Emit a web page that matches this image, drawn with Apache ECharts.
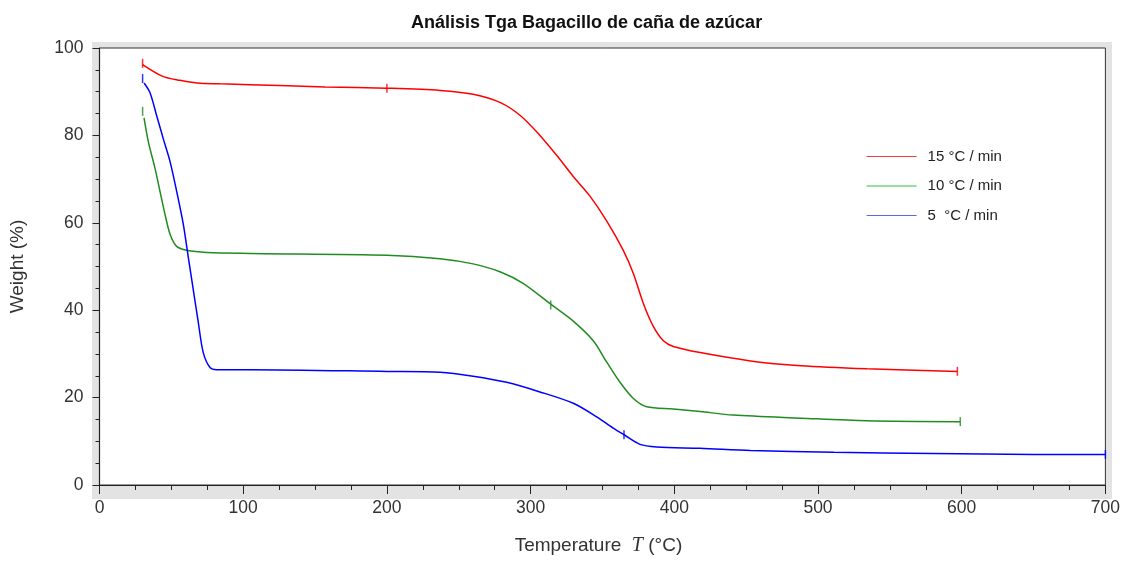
<!DOCTYPE html>
<html lang="es">
<head>
    <meta charset="UTF-8">
    <title>Análisis Tga</title>
    <script src="https://cdn.jsdelivr.net/npm/echarts@6/dist/echarts.min.js"></script>
</head>
<body style="margin:0; background:#fff;">
    <div id="chart" style="width:1123px; height:561px;"></div>
    <script>
        // datos (T en °C, peso en %)
        const redT = [30, 44, 56, 68, 84, 105, 157, 200, 237, 260, 279, 293, 306.5, 318, 329.7, 341.3, 353, 364.5, 371.5, 378.4, 385.4, 392.4, 399.3, 418, 453, 488, 534, 597];
        const redW = [96.2, 93.5, 92.6, 92.0, 91.8, 91.6, 91.1, 90.8, 90.3, 89.4, 87.5, 84.5, 80.0, 75.5, 70.6, 66.1, 60.4, 53.7, 48.4, 41.6, 36.3, 33.0, 31.7, 30.3, 28.4, 27.3, 26.6, 26.0];

        const greenT = [31, 34, 38.6, 42.1, 45.6, 49.1, 53.7, 60.7, 74.6, 105, 200, 237, 260, 278.7, 295, 314.7, 329.7, 343.6, 353, 362.2, 371.5, 380.8, 399.3, 418, 441, 488, 534, 599];
        const greenW = [84.0, 78.5, 72.5, 67.2, 61.9, 57.4, 54.6, 53.7, 53.2, 53.0, 52.6, 51.8, 50.6, 48.8, 46.1, 41.2, 37.5, 33.0, 28.1, 23.5, 19.8, 17.9, 17.4, 16.8, 16.0, 15.3, 14.7, 14.5];

        const blueT = [31, 35.1, 39.8, 44.4, 49.1, 53.7, 58.3, 61.8, 65.3, 68.8, 72.2, 76.9, 81.6, 105, 200, 237, 260, 283.4, 306.5, 329.7, 346, 357.5, 365, 376.1, 387.8, 418, 453, 511, 580, 650, 700];
        const blueW = [92.0, 89.8, 84.5, 79.2, 74.0, 67.2, 59.7, 52.1, 44.6, 37.1, 30.3, 26.9, 26.4, 26.4, 26.0, 25.8, 24.9, 23.5, 21.3, 18.7, 15.6, 13.0, 11.5, 9.3, 8.7, 8.4, 7.9, 7.5, 7.2, 7.0, 7.0];

        // marcas verticales sobre cada curva
        const redMarkT = [30, 200, 597];
        const redMarkW = [96.5, 90.8, 26.0];
        const greenMarkT = [30, 314, 599];
        const greenMarkW = [85.5, 41.2, 14.5];
        const blueMarkT = [30, 365, 700];
        const blueMarkW = [93.0, 11.5, 7.0];

        const seriesNames = ['15 °C / min', '10 °C / min', '5  °C / min'];
        const colors = ['#ff0000', '#228b22', '#0000ff'];
        const legendColors = ['#f03c3c', '#2fbf3f', '#5a6ae0'];

        const zip = (xs, ys) => xs.map((x, i) => [x, ys[i]]);
        const font = 'Liberation Sans, Arial, sans-serif';

        function lineSeries(name, color, xs, ys) {
            return {
                name: name,
                type: 'line',
                data: zip(xs, ys),
                symbol: 'none',
                smooth: 0.3,
                lineStyle: { color: color, width: 1.5 },
                itemStyle: { color: color },
                z: 3
            };
        }
        function markSeries(color, xs, ys) {
            return {
                type: 'scatter',
                data: zip(xs, ys),
                symbol: 'rect',
                symbolSize: [1.5, 9],
                itemStyle: { color: color },
                silent: true,
                z: 4
            };
        }

        const chart = echarts.init(document.getElementById('chart'));
        chart.setOption({
            animation: false,
            textStyle: { fontFamily: font },
            title: {
                text: 'Análisis Tga Bagacillo de caña de azúcar',
                left: 406,
                top: 9,
                textStyle: { fontSize: 18, fontWeight: 'bold', color: '#111', fontFamily: font }
            },
            graphic: [{
                type: 'rect',
                z: -10,
                shape: { x: 92, y: 42, width: 1020, height: 457 },
                style: { fill: '#e3e3e3' }
            }],
            legend: {
                orient: 'vertical',
                left: 866,
                top: 149,
                padding: 0,
                itemWidth: 50,
                itemHeight: 14,
                itemGap: 14.5,
                data: seriesNames.map((n, i) => ({
                    name: n,
                    itemStyle: { opacity: 0 },
                    lineStyle: { color: legendColors[i], width: 1.2 }
                })),
                textStyle: { fontSize: 15, color: '#222', fontFamily: font, padding: [0, 0, 0, 6] }
            },
            grid: {
                left: 99.5,
                top: 48,
                width: 1006.5,
                height: 443,
                show: true,
                backgroundColor: '#fff',
                borderColor: '#333',
                borderWidth: 1
            },
            xAxis: {
                type: 'value',
                min: 0,
                max: 700,
                interval: 100,
                name: '{a|Temperature  }{t|T}{a| (°C)}',
                nameLocation: 'middle',
                nameGap: 51,
                nameTextStyle: {
                    padding: [0, 8, 0, 0],
                    rich: {
                        a: { fontSize: 19, color: '#333', fontFamily: font },
                        t: { fontSize: 20, color: '#333', fontStyle: 'italic', fontFamily: 'Liberation Serif, DejaVu Serif, serif' }
                    }
                },
                axisLine: { lineStyle: { color: '#222', width: 1.2 } },
                axisTick: { length: 9, lineStyle: { color: '#222' } },
                minorTick: { show: true, splitNumber: 4, length: 5, lineStyle: { color: '#222' } },
                axisLabel: { fontSize: 17.5, color: '#333', margin: 14 },
                splitLine: { show: false }
            },
            yAxis: {
                type: 'value',
                min: 0,
                max: 100,
                interval: 20,
                name: 'Weight (%)',
                nameLocation: 'middle',
                nameGap: 72,
                nameTextStyle: { fontSize: 19, color: '#333' },
                axisLine: { lineStyle: { color: '#222', width: 1.2 } },
                axisTick: { length: 7, lineStyle: { color: '#222' } },
                minorTick: { show: true, splitNumber: 4, length: 4, lineStyle: { color: '#222' } },
                axisLabel: { fontSize: 17.5, color: '#333', margin: 16 },
                splitLine: { show: false }
            },
            series: [
                lineSeries(seriesNames[0], colors[0], redT, redW),
                lineSeries(seriesNames[1], colors[1], greenT, greenW),
                lineSeries(seriesNames[2], colors[2], blueT, blueW),
                markSeries(colors[0], redMarkT, redMarkW),
                markSeries(colors[1], greenMarkT, greenMarkW),
                markSeries(colors[2], blueMarkT, blueMarkW)
            ]
        });
    </script>
</body>
</html>
